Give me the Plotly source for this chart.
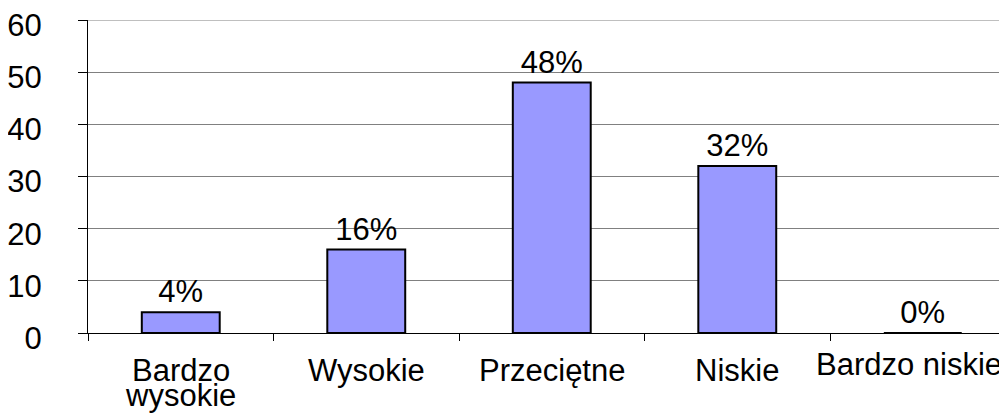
import plotly.graph_objects as go

categories = ["Bardzo wysokie", "Wysokie", "Przeciętne", "Niskie", "Bardzo niskie"]
label_lines = [["Bardzo", "wysokie"], ["Wysokie"], ["Przeciętne"], ["Niskie"], ["Bardzo niskie"]]
values = [4, 16, 48, 32, 0]
y_ticks = [0, 10, 20, 30, 40, 50, 60]

FONT = "Liberation Sans, Arial, sans-serif"
FS = 31

fig = go.Figure()
fig.add_trace(go.Bar(
    x=categories,
    y=values,
    width=0.42,
    marker=dict(color="#9999FF", line=dict(color="black", width=2)),
    text=[f"{v}%" for v in values],
    textposition="outside",
    textfont=dict(family=FONT, size=FS, color="black"),
    constraintext="none",
    cliponaxis=False,
))

annotations = []
for i, (cat, lines) in enumerate(zip(categories, label_lines)):
    xs = -14 if i == len(categories) - 1 else 0
    base = -12 if i == len(categories) - 1 else -18
    for j, line in enumerate(lines):
        annotations.append(dict(
            x=cat, y=0, xref="x", yref="y", text=line, showarrow=False,
            xanchor="center", yanchor="top", xshift=xs, yshift=base - 25 * j,
            font=dict(family=FONT, size=FS, color="black"),
        ))

# top gridline at the maximum tick
fig.add_shape(type="line", xref="paper", yref="y", x0=0, x1=1,
              y0=y_ticks[-1], y1=y_ticks[-1], line=dict(color="#808080", width=1))

# page has 8px body margin: figure drawn 8px right/down of page origin
fig.update_layout(
    width=999, height=405,
    margin=dict(l=80, r=0, t=12, b=80),
    paper_bgcolor="white", plot_bgcolor="white",
    showlegend=False,
    font=dict(family=FONT, size=FS, color="black"),
    annotations=annotations,
    xaxis=dict(
        type="category", range=[-0.5, 4.454], automargin=False,
        showticklabels=False, ticks="outside", tickson="boundaries",
        ticklen=7, tickcolor="black", tickwidth=1,
        showline=True, linecolor="black", linewidth=1,
        showgrid=False, zeroline=False,
    ),
    yaxis=dict(
        range=[0, 60], tickvals=y_ticks, ticktext=[str(t) for t in y_ticks],
        automargin=False, ticklabeloverflow="allow",
        ticks="outside", ticklen=9, tickcolor="black", tickwidth=1,
        ticklabelstandoff=30, ticklabelshift=5,
        showline=True, linecolor="black", linewidth=1,
        showgrid=True, gridcolor="#808080", gridwidth=1,
        zeroline=False,
        tickfont=dict(family=FONT, size=FS, color="black"),
    ),
)

fig.write_html("out.html")
